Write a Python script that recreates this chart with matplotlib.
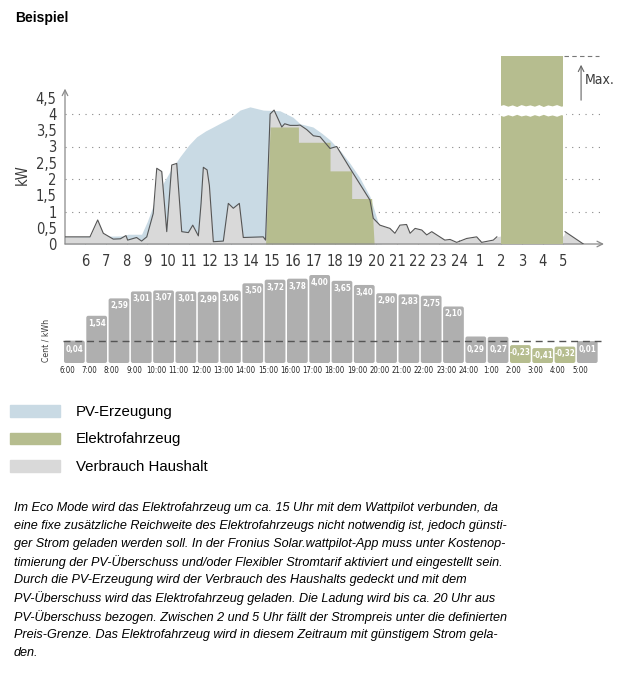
import matplotlib
matplotlib.use("Agg")
import matplotlib.pyplot as plt
from matplotlib.patches import Patch, FancyBboxPatch
import numpy as np

W, H = 631, 673

# --- data ------------------------------------------------------------------
# PV production (kW) over the hour axis (6 .. 29 = 5 Uhr next day)
pv_hours = [5.04, 7.9, 8.05, 8.72, 9.0, 9.4, 9.76, 10.1, 10.57, 11.0, 11.37, 11.8,
            12.16, 12.6, 12.97, 13.45, 13.93, 14.57, 15.37, 16.0, 16.34, 16.96,
            17.4, 17.78, 18.3, 18.74, 19.2, 19.7, 20.1, 20.25]
pv_kw = [0.22, 0.25, 0.3, 0.3, 0.7, 1.4, 1.87, 2.25, 2.69, 3.05, 3.3, 3.48,
         3.6, 3.75, 3.87, 4.12, 4.22, 4.12, 4.1, 3.9, 3.7, 3.6,
         3.4, 3.2, 2.85, 2.48, 2.05, 1.46, 0.64, 0.0]

# household consumption (kW)
home_hours = [5.04, 6.24, 6.61, 6.88, 7.36, 7.7, 7.97, 8.05, 8.48, 8.72, 8.97, 9.28,
              9.45, 9.69, 9.93, 10.17, 10.41, 10.65, 10.97, 11.18, 11.45, 11.58,
              11.69, 11.87, 11.98, 12.17, 12.65, 12.89, 13.13, 13.42, 13.61, 14.57,
              14.68, 14.9, 15.09, 15.46, 15.6, 15.86, 16.2, 16.34, 16.66, 16.98,
              17.3, 17.78, 18.1, 18.74, 19.7, 19.86, 20.18, 20.66, 20.9, 21.14,
              21.46, 21.63, 21.87, 22.19, 22.43, 22.67, 23.3, 23.55, 23.87, 24.35,
              24.83, 25.07, 25.63, 25.8, 26.0, 29.0, 29.08, 29.96]
home_kw = [0.22, 0.22, 0.74, 0.33, 0.15, 0.16, 0.26, 0.12, 0.2, 0.09, 0.22, 0.94,
           2.33, 2.23, 0.38, 2.43, 2.48, 0.38, 0.35, 0.58, 0.25, 1.25,
           2.36, 2.28, 1.8, 0.07, 0.09, 1.25, 1.1, 1.25, 0.2, 0.22,
           0.12, 4.0, 4.12, 3.6, 3.7, 3.65, 3.65, 3.66, 3.52, 3.33,
           3.3, 2.94, 3.0, 2.33, 1.35, 0.79, 0.58, 0.48, 0.33, 0.58,
           0.6, 0.33, 0.48, 0.43, 0.28, 0.38, 0.12, 0.14, 0.05, 0.17,
           0.22, 0.05, 0.12, 0.22, 0.25, 0.25, 0.38, 0.0]

# EV charging from PV surplus (kW)
ev_hours = [14.68, 14.9, 16.26, 16.26, 17.78, 17.78, 18.82, 18.82, 19.78, 19.9]
ev_kw = [0.0, 3.6, 3.6, 3.13, 3.13, 2.25, 2.25, 1.4, 1.4, 0.0]

# EV charging at night with cheap grid power
ev_night_start, ev_night_end, ev_night_kw = 26.0, 29.0, 5.8

hour_ticks = list(range(6, 30))
hour_labels = [str(h) if h <= 24 else str(h - 24) for h in hour_ticks]
kw_ticks = [0, 0.5, 1, 1.5, 2, 2.5, 3, 3.5, 4, 4.5]
kw_labels = ["0", "0,5", "1", "1,5", "2", "2,5", "3", "3,5", "4", "4,5"]

# electricity price per hour (Cent / kWh)
price_labels = ["6:00", "7:00", "8:00", "9:00", "10:00", "11:00", "12:00", "13:00",
                "14:00", "15:00", "16:00", "17:00", "18:00", "19:00", "20:00",
                "21:00", "22:00", "23:00", "24:00", "1:00", "2:00", "3:00", "4:00",
                "5:00"]
prices = [0.04, 1.54, 2.59, 3.01, 3.07, 3.01, 2.99, 3.06, 3.50, 3.72, 3.78, 4.00,
          3.65, 3.40, 2.90, 2.83, 2.75, 2.10, 0.29, 0.27, -0.23, -0.41, -0.32, 0.01]

text_lines = [
    "Im Eco Mode wird das Elektrofahrzeug um ca. 15 Uhr mit dem Wattpilot verbunden, da",
    "eine fixe zusätzliche Reichweite des Elektrofahrzeugs nicht notwendig ist, jedoch günsti-",
    "ger Strom geladen werden soll. In der Fronius Solar.wattpilot-App muss unter Kostenop-",
    "timierung der PV-Überschuss und/oder Flexibler Stromtarif aktiviert und eingestellt sein.",
    "Durch die PV-Erzeugung wird der Verbrauch des Haushalts gedeckt und mit dem",
    "PV-Überschuss wird das Elektrofahrzeug geladen. Die Ladung wird bis ca. 20 Uhr aus",
    "PV-Überschuss bezogen. Zwischen 2 und 5 Uhr fällt der Strompreis unter die definierten",
    "Preis-Grenze. Das Elektrofahrzeug wird in diesem Zeitraum mit günstigem Strom gela-",
    "den.",
]

# --- styles ----------------------------------------------------------------
c_pv = "#c9dae4"
c_ev = "#b6bd8f"
c_home = "#d9d9d9"
c_bar = "#afafaf"
c_line = "#555555"
c_axis = "#8a8a8a"
c_txt = "#3a3a3a"

cond = dict(family="DejaVu Sans", fontstretch="condensed")
body = "Liberation Sans"


def fx(px):
    return px / W


def fy(py):
    return 1 - py / H


fig = plt.figure(figsize=(W / 100, H / 100), dpi=100)

# --- top chart: kW over the day ----------------------------------------------
x0 = 6 + (65 - 85) / 20.8
x1 = 6 + (615 - 85) / 20.8
ax = fig.add_axes([fx(65), fy(244), fx(615) - fx(65), fy(40) - fy(244)])
ax.set_xlim(x0, x1)
ax.set_ylim(0, (244 - 40) / 32.5)
for s in ax.spines.values():
    s.set_visible(False)

for g in [1, 2, 3, 4]:
    ax.plot([x0, 30.76], [g, g], color="#888888", lw=0.8, ls=(0, (1, 5)), zorder=0.5)

ax.fill_between(pv_hours, pv_kw, color=c_pv, lw=0, zorder=1)
ax.fill_between(home_hours, home_kw, color=c_home, lw=0, zorder=2)
ax.fill_between(ev_hours, ev_kw, color=c_ev, lw=0, zorder=3)
ax.plot(home_hours[:-4], home_kw[:-4], color=c_line, lw=0.8, zorder=4)
ax.plot(home_hours[-2:], home_kw[-2:], color=c_line, lw=0.8, zorder=4)

ax.bar([ev_night_start], [ev_night_kw], width=ev_night_end - ev_night_start,
       align="edge", color=c_ev, lw=0, zorder=5)
# axis break in the night bar
bx = np.linspace(ev_night_start - 0.1, ev_night_end + 0.1, 16)
ax.fill_between(bx, [3.97, 3.93, 3.98, 3.94, 3.99, 3.94, 3.97, 3.93, 3.98, 3.94, 3.99, 3.94, 3.97, 3.93, 3.98, 3.95],
                [4.25, 4.29, 4.24, 4.28, 4.23, 4.29, 4.25, 4.28, 4.24, 4.29, 4.23, 4.28, 4.25, 4.29, 4.24, 4.27],
                color="white", lw=0, zorder=6)

ax.plot([ev_night_end + 0.05, 30.7], [ev_night_kw, ev_night_kw], color="#777777",
        lw=0.8, dashes=(4, 3), zorder=6)
ax.annotate("", xy=(29.85, 5.6), xytext=(29.85, 4.34),
            arrowprops=dict(arrowstyle="->", color="#666666", lw=0.8))
ax.text(30.05, 5.05, "Max.", fontsize=10, color=c_txt, va="center", **cond)

# axes with arrows
ax.annotate("", xy=(30.95, 0), xytext=(x0, 0), annotation_clip=False,
            arrowprops=dict(arrowstyle="->", color=c_axis, lw=0.9, shrinkA=0, shrinkB=0))
ax.annotate("", xy=(x0, 4.78), xytext=(x0, 0), annotation_clip=False,
            arrowprops=dict(arrowstyle="->", color=c_axis, lw=0.9, shrinkA=0, shrinkB=0))

ax.set_xticks(hour_ticks)
ax.set_xticklabels(hour_labels, fontsize=10.5, color=c_txt, **cond)
ax.set_yticks(kw_ticks)
ax.set_yticklabels(kw_labels, fontsize=10.5, color=c_txt, **cond)
ax.tick_params(axis="x", direction="in", length=3, width=0.8, color=c_axis, pad=7)
ax.tick_params(axis="y", length=0, pad=6)
fig.text(fx(22), fy(175), "kW", rotation=90, fontsize=10.5,
         color=c_txt, ha="center", va="center", **cond)

# --- bottom chart: price per hour --------------------------------------------
px0, px1 = 60, 610
bax = fig.add_axes([fx(px0), fy(363), fx(px1) - fx(px0), fy(270) - fy(363)])
bax.set_xlim((px0 - 64) / 22.3, (px1 - 64) / 22.3)
floor = -1.31
bax.set_ylim(floor, (341 - 270) / 16.5)
for s in bax.spines.values():
    s.set_visible(False)

idx = np.arange(len(prices))
heights = [p - floor for p in prices]
colors = [c_ev if p < 0 else c_bar for p in prices]
bars = bax.bar(idx, heights, bottom=floor, width=0.93, align="edge", color=colors, lw=0)
# give the bars slightly rounded corners
for r in bars:
    r.set_visible(False)
    bax.add_patch(FancyBboxPatch((r.get_x(), r.get_y()), r.get_width(), r.get_height(),
                                 boxstyle="round,pad=0,rounding_size=0.09",
                                 mutation_aspect=1.35, fc=r.get_facecolor(), lw=0,
                                 zorder=2))
bax.plot([-0.05, 24.1], [0, 0], color="#555555", lw=1, dashes=(5, 3.5), zorder=3)
for i, p in enumerate(prices):
    if p < 0:
        ly = p - 0.42
    elif p > 0.5:
        ly = p - 0.45
    else:
        ly = -0.52
    bax.text(i + 0.47, ly, f"{p:.2f}".replace(".", ","),
             color="white", fontsize=5.8, weight="bold", ha="center", va="center",
             zorder=4, **cond)
bax.set_xticks(idx + 0.14)
bax.set_xticklabels(price_labels, fontsize=5.6, color="#222222", **cond)
bax.set_yticks([])
bax.tick_params(axis="x", length=0, pad=2.5)
fig.text(fx(46), fy(340), "Cent / kWh", rotation=90, fontsize=6.2,
         color=c_txt, ha="center", va="center", **cond)

# --- legend ------------------------------------------------------------------
handles = [Patch(color=c_pv, label="PV-Erzeugung"),
           Patch(color=c_ev, label="Elektrofahrzeug"),
           Patch(color=c_home, label="Verbrauch Haushalt")]
fig.legend(handles=handles, loc="upper left", bbox_to_anchor=(fx(10), fy(405)),
           frameon=False, prop=dict(family=body, size=10.8), handlelength=3.3,
           handleheight=0.8, handletextpad=1.1, labelspacing=0.9, borderpad=0,
           borderaxespad=0)

# --- title and description ------------------------------------------------------
fig.text(fx(15), fy(18), "Beispiel", family=body, weight="bold", fontsize=10,
         color="black", va="center")
for k, line in enumerate(text_lines):
    fig.text(fx(14), fy(508 + 18.1 * k), line, family=body, style="italic",
             fontsize=9.1, color="black", va="center")

fig.savefig("out.png", dpi=100)
